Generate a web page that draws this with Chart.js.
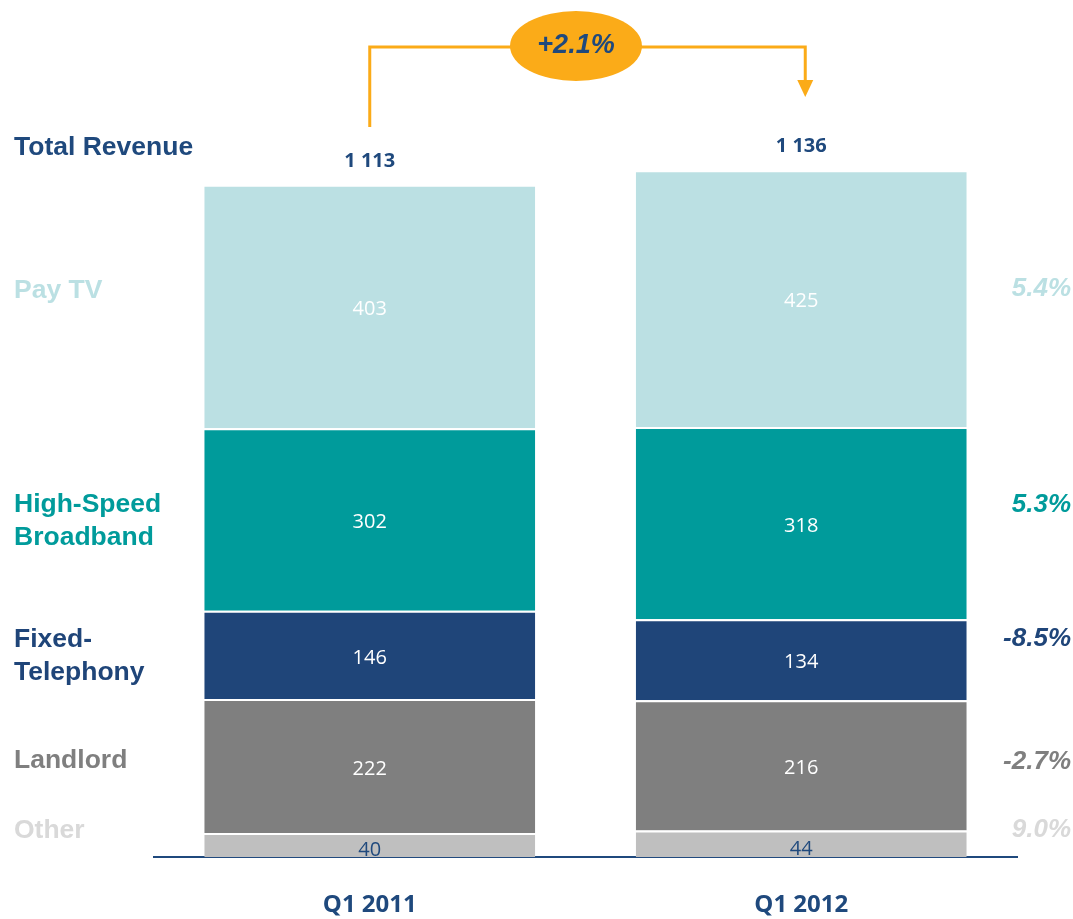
<!DOCTYPE html>
<html>
<head>
<meta charset="utf-8">
<script src="https://cdn.jsdelivr.net/npm/chart.js@4"></script>
<style>
  html, body { margin: 0; padding: 0; background: #fff; }
  #wrap { width: 1073px; height: 919px; position: relative; }
</style>
</head>
<body>
<div id="wrap"><canvas id="revChart" width="1073" height="919"></canvas></div>
<script>
// periods on the x axis
const periods = ["Q1 2011", "Q1 2012"];

// segments, bottom to top
const segments = ["Other", "Landlord", "Fixed-Telephony", "High-Speed Broadband", "Pay TV"];
const other = [40, 44];
const landlord = [222, 216];
const fixedTel = [146, 134];
const broadband = [302, 318];
const payTv = [403, 425];

const totals = ["1 113", "1 136"];
const growth = ["9.0%", "-2.7%", "-8.5%", "5.3%", "5.4%"];
const totalGrowth = "+2.1%";

const segColors = ["#bfbfbf", "#7f7f7f", "#1f4579", "#009b9b", "#bbe0e3"];
const labelColors = ["#d9d9d9", "#7f7f7f", "#1f4579", "#009b9b", "#bbe0e3"];
const navy = "#1f497d";
const orange = "#fbab18";

const seriesData = [other, landlord, fixedTel, broadband, payTv];

/*
 * values inside the segments, totals on top, side labels and the growth arrow
 */
const annotate = {
    id: "annotate",
    afterDatasetsDraw(chart) {
        const ctx = chart.ctx;
        const xs = chart.scales.x;
        const ys = chart.scales.y;

        ctx.save();
        ctx.textAlign = "center";
        ctx.textBaseline = "middle";

        // segment values
        chart.data.datasets.forEach((ds, di) => {
            const meta = chart.getDatasetMeta(di);
            meta.data.forEach((bar, i) => {
                const mid = (bar.y + bar.base) / 2;
                ctx.font = "20px 'Open Sans'";
                ctx.fillStyle = di === 0 ? navy : "#ffffff";
                ctx.fillText(ds.data[i], bar.x, di === 0 ? mid + 5 : mid + 3);
            });
        });

        // totals
        periods.forEach((p, i) => {
            let sum = 0;
            seriesData.forEach(s => sum += s[i]);
            const x = xs.getPixelForValue(i);
            const y = ys.getPixelForValue(sum) - 24;
            ctx.font = "bold 20px 'Open Sans'";
            ctx.fillStyle = navy;
            ctx.fillText(totals[i], x, y);
        });

        // left labels
        ctx.textAlign = "left";
        ctx.font = "bold 26.5px 'Liberation Sans'";
        const leftLabels = [
            { t: ["Total Revenue"], y: 148, c: navy },
            { t: ["Pay TV"], y: 291, c: labelColors[4] },
            { t: ["High-Speed", "Broadband"], y: 505, c: labelColors[3] },
            { t: ["Fixed-", "Telephony"], y: 640, c: labelColors[2] },
            { t: ["Landlord"], y: 761, c: labelColors[1] },
            { t: ["Other"], y: 831, c: labelColors[0] }
        ];
        leftLabels.forEach(l => {
            ctx.fillStyle = l.c;
            l.t.forEach((line, k) => ctx.fillText(line, 14, l.y + k * 33));
        });

        // right growth labels
        ctx.textAlign = "right";
        ctx.font = "italic bold 26px 'Liberation Sans'";
        const rightY = [830, 762, 639, 505, 289];
        growth.forEach((g, i) => {
            ctx.fillStyle = labelColors[i];
            ctx.fillText(g, 1071, rightY[i]);
        });

        // growth arrow
        const x0 = xs.getPixelForValue(0);
        const x1 = xs.getPixelForValue(1) + 4;
        ctx.strokeStyle = orange;
        ctx.lineWidth = 3;
        ctx.beginPath();
        ctx.moveTo(x0, 127);
        ctx.lineTo(x0, 47);
        ctx.lineTo(x1, 47);
        ctx.lineTo(x1, 82);
        ctx.stroke();
        ctx.fillStyle = orange;
        ctx.beginPath();
        ctx.moveTo(x1 - 8, 80);
        ctx.lineTo(x1 + 8, 80);
        ctx.lineTo(x1, 97);
        ctx.closePath();
        ctx.fill();

        ctx.beginPath();
        ctx.ellipse(576, 46, 66, 35, 0, 0, Math.PI * 2);
        ctx.fill();
        ctx.textAlign = "center";
        ctx.fillStyle = navy;
        ctx.font = "italic bold 27px 'Liberation Sans'";
        ctx.fillText(totalGrowth, 576, 46);

        ctx.restore();
    }
};

const revChart = new Chart(document.getElementById("revChart"), {

    type: "bar",

    data: {

        labels: periods,

        datasets: segments.map((name, i) => ({
            label: name,
            data: seriesData[i],
            backgroundColor: segColors[i],
            borderColor: "#ffffff",
            borderWidth: { top: 2 },
            borderSkipped: "start",
            barPercentage: 1,
            categoryPercentage: 0.767
        }))

    },

    options: {

        responsive: false,
        animation: false,

        layout: {
            padding: { left: 154, right: 56, top: 0, bottom: -35 }
        },

        plugins: {
            legend: { display: false },
            tooltip: { enabled: false }
        },

        scales: {

            x: {
                stacked: true,
                grid: { display: false, drawTicks: false },
                border: { display: true, color: navy, width: 2 },
                ticks: {
                    padding: 34,
                    color: navy,
                    font: { family: "'Open Sans'", size: 24, weight: "bold" }
                }
            },

            y: {
                stacked: true,
                display: false,
                min: 0,
                max: 1419
            }

        }

    },

    plugins: [annotate]

});
</script>
</body>
</html>
